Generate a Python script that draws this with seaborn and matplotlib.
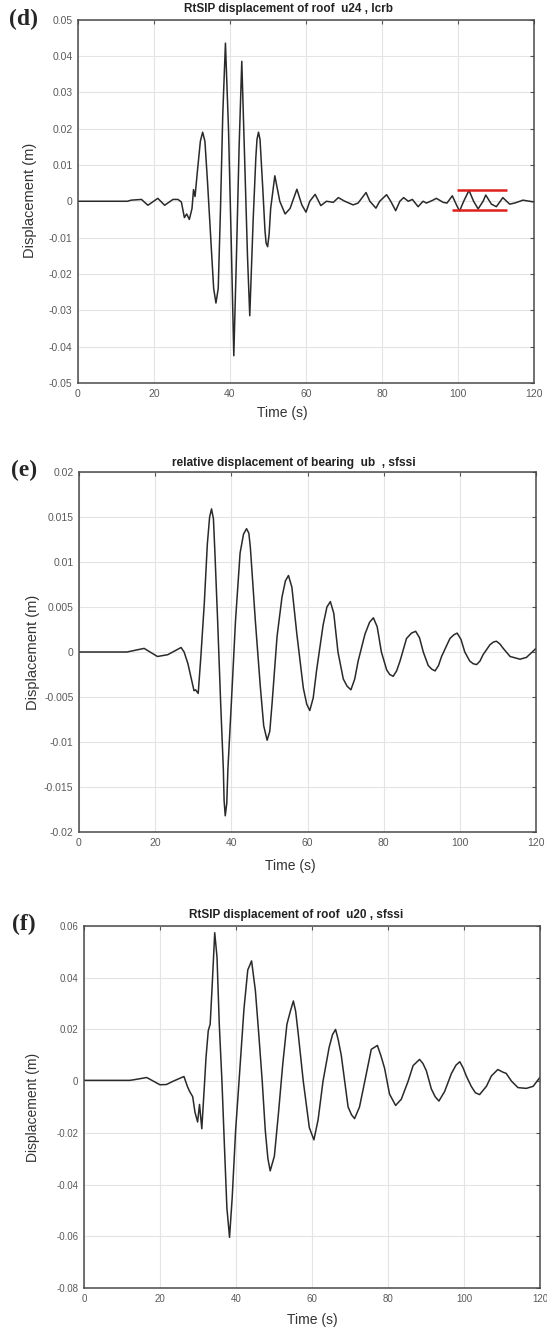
import numpy as np
import pandas as pd
import seaborn as sns
import matplotlib
matplotlib.use("Agg")
import matplotlib.pyplot as plt

sns.set_style("white")
plt.rcParams["font.family"] = ["Liberation Sans", "DejaVu Sans"]

# (d) roof displacement u24, lcrb
t_d = [0, 13, 14, 16.7, 18.4, 21, 22.8, 25, 26.3, 27.2,
       28, 28.6, 29.3, 30, 30.4, 30.8, 31.4, 32.2, 32.8, 33.4,
       34.1, 35.2, 35.7, 36.3, 36.9, 37.5, 38.1, 38.8, 39.6, 40.3,
       41, 41.7, 42.4, 43.1, 43.9, 44.6, 45.2, 46.1, 46.8, 47.1,
       47.5, 47.9, 48.6, 49.2, 49.5, 49.9, 50.3, 50.7, 51.8, 53.1,
       54.5, 55.8, 57.6, 58.9, 60, 61, 62.4, 63.9, 65.4, 67.2,
       68.5, 70.2, 72.4, 73.7, 75.8, 76.8, 78.4, 79.4, 81.2, 82.3,
       83.6, 84.7, 85.7, 86.9, 88, 89.5, 90.8, 91.7, 93.4, 94.3,
       96.1, 97.1, 98.5, 99.6, 100.4, 101.5, 102.9, 104.1, 105.3, 106.6,
       107.3, 108.8, 110.1, 111.8, 113.6, 114.9, 117.1, 120]
u_d = [0, 0, 0.0003, 0.0005, -0.0011, 0.0008, -0.0011, 0.0005, 0.0005, -0.0002,
       -0.0045, -0.0035, -0.005, -0.002, 0.0032, 0.0013, 0.008, 0.0165, 0.019, 0.0165,
       0.005, -0.015, -0.024, -0.028, -0.024, -0.002, 0.024, 0.0435, 0.02, -0.01,
       -0.0425, -0.015, 0.015, 0.0385, 0.01, -0.015, -0.0315, -0.005, 0.012, 0.017,
       0.019, 0.017, 0.004, -0.008, -0.0115, -0.0125, -0.009, -0.002, 0.007, 0.0,
       -0.0035, -0.002, 0.0033, -0.001, -0.003, 0.0, 0.0019, -0.0012, 0.0, -0.0003,
       0.001, 0.0, -0.001, -0.0005, 0.0024, 0.0, -0.0019, 0.0, 0.0018, 0.0,
       -0.0026, 0.0, 0.001, 0.0, 0.0005, -0.0015, 0.0, -0.0005, 0.0003, 0.0008,
       -0.0003, -0.0005, 0.0015, -0.001, -0.0027, 0.0, 0.003, 0.0, -0.0021, 0.0,
       0.0017, -0.0008, -0.0015, 0.001, -0.0008, -0.0005, 0.0003, -0.0002]

# red band marked on (d)
band_t_upper = [99.8, 113.0]
band_t_lower = [98.5, 113.0]
band_upper = 0.0031
band_lower = -0.0023

# (e) relative displacement of bearing ub, sfssi
t_e = [0, 12.6, 17.1, 20.6, 23.3, 26.8, 27.6, 28.6, 30.2, 30.6,
       31.3, 32.0, 32.9, 33.7, 34.3, 34.8, 35.3, 35.7, 36.4, 37.2,
       37.9, 38.1, 38.4, 38.8, 39.1, 40.0, 41.1, 42.3, 43.2, 44.0,
       44.6, 45.0, 46.3, 47.6, 48.5, 49.4, 50.1, 50.7, 52.0, 53.3,
       54.2, 55.0, 55.9, 57.2, 58.9, 59.8, 60.6, 61.5, 62.4, 64.1,
       65.1, 66.0, 66.9, 68.0, 69.4, 70.4, 71.4, 72.4, 73.3, 75.1,
       76.3, 77.3, 78.3, 79.4, 80.8, 81.6, 82.5, 83.4, 84.3, 86.0,
       87.3, 88.4, 89.4, 90.4, 91.7, 92.6, 93.5, 94.4, 95.2, 97.4,
       98.4, 99.3, 100.3, 101.3, 102.6, 103.5, 104.4, 105.3, 106.1, 107.9,
       108.8, 109.6, 110.5, 111.4, 113.2, 115.8, 117.5, 120]
u_e = [0, 0, 0.0004, -0.0005, -0.0003, 0.0005, 0.0, -0.0013, -0.0043, -0.0042,
       -0.0046, -0.0005, 0.0054, 0.012, 0.015, 0.0159, 0.0148, 0.0109, 0.0035, -0.0057,
       -0.013, -0.0165, -0.0182, -0.0168, -0.013, -0.0057, 0.0035, 0.011, 0.0131, 0.0137,
       0.0132, 0.0116, 0.0035, -0.0038, -0.0082, -0.0098, -0.0088, -0.0057, 0.0017, 0.0061,
       0.0079, 0.0085, 0.0072, 0.002, -0.004, -0.0058, -0.0065, -0.0051, -0.002, 0.003,
       0.005, 0.0056, 0.0043, 0.0, -0.003, -0.0038, -0.0042, -0.003, -0.001, 0.002,
       0.0033, 0.0038, 0.0028, 0.0, -0.002, -0.0025, -0.0027, -0.0021, -0.001, 0.0015,
       0.0021, 0.0023, 0.0016, 0.0, -0.0015, -0.0019, -0.0021, -0.0015, -0.0005, 0.0015,
       0.0019, 0.0021, 0.0014, 0.0, -0.001, -0.0013, -0.0014, -0.001, -0.0003, 0.0008,
       0.0011, 0.0012, 0.0009, 0.0004, -0.0005, -0.0008, -0.0006, 0.0004]

# (f) roof displacement u20, sfssi
t_f = [0, 12, 13, 16.5, 20, 21.7, 23.5, 26.3, 27.2, 27.8,
       28.6, 29.2, 29.9, 30.4, 31.0, 31.7, 32.1, 32.7, 33.2, 33.7,
       34.4, 35.0, 35.6, 36.3, 36.9, 37.6, 38.3, 39.0, 39.9, 40.8,
       42.1, 43.1, 44.1, 45.1, 46.0, 46.9, 47.7, 48.4, 49.0, 50.1,
       51.2, 52.3, 53.4, 54.3, 55.1, 55.7, 56.4, 57.7, 59.3, 60.5,
       61.6, 62.9, 64.5, 65.4, 66.2, 66.9, 67.7, 69.5, 70.4, 71.2,
       72.5, 73.9, 75.6, 77.2, 78.1, 79.1, 80.4, 82.0, 83.5, 85.3,
       86.6, 88.3, 89.2, 90.1, 91.4, 92.4, 93.4, 94.9, 96.7, 97.9,
       98.9, 99.8, 100.6, 101.9, 103.0, 104.1, 105.9, 107.2, 108.9, 110.2,
       111.1, 112.5, 114.2, 116.4, 118.2, 120]
u_f = [0.0003, 0.0003, 0.0005, 0.0014, -0.0014, -0.0013, 0.0, 0.0018, -0.002, -0.004,
       -0.006, -0.012, -0.0158, -0.009, -0.0184, -0.0013, 0.009, 0.0195, 0.022, 0.036,
       0.0574, 0.048, 0.022, 0.0, -0.023, -0.049, -0.0604, -0.045, -0.019, 0.0,
       0.028, 0.043, 0.0465, 0.035, 0.018, 0.0, -0.019, -0.030, -0.0347, -0.029,
       -0.012, 0.0065, 0.022, 0.027, 0.031, 0.027, 0.018, 0.0, -0.018, -0.0227,
       -0.015, 0.0, 0.013, 0.018, 0.02, 0.016, 0.01, -0.01, -0.013, -0.0145,
       -0.01, 0.0, 0.0123, 0.0138, 0.010, 0.005, -0.005, -0.0094, -0.007, 0.0,
       0.006, 0.0084, 0.0068, 0.004, -0.003, -0.006, -0.0077, -0.004, 0.003, 0.0062,
       0.0075, 0.005, 0.002, -0.002, -0.0045, -0.0052, -0.002, 0.002, 0.0045, 0.0035,
       0.003, 0.0, -0.0025, -0.0028, -0.002, 0.0015]

x_ticks = [0, 20, 40, 60, 80, 100, 120]
yticks_d = [-0.05, -0.04, -0.03, -0.02, -0.01, 0, 0.01, 0.02, 0.03, 0.04, 0.05]
ylabels_d = ["-0.05", "-0.04", "-0.03", "-0.02", "-0.01", "0", "0.01", "0.02", "0.03", "0.04", "0.05"]
yticks_e = [-0.02, -0.015, -0.01, -0.005, 0, 0.005, 0.01, 0.015, 0.02]
ylabels_e = ["-0.02", "-0.015", "-0.01", "-0.005", "0", "0.005", "0.01", "0.015", "0.02"]
yticks_f = [-0.08, -0.06, -0.04, -0.02, 0, 0.02, 0.04, 0.06]
ylabels_f = ["-0.08", "-0.06", "-0.04", "-0.02", "0", "0.02", "0.04", "0.06"]

W, H = 547, 1333
fig = plt.figure(figsize=(W / 100, H / 100), dpi=100)


def panel(left, right, top, bottom, t, u, yticks, ylabels, tick_size=7.5):
    ax = fig.add_axes([left / W, 1 - bottom / H, (right - left) / W, (bottom - top) / H])
    df = pd.DataFrame({"t": t, "u": u})
    sns.lineplot(data=df, x="t", y="u", ax=ax, color="#2a2a2a", lw=1.1,
                 estimator=None, sort=False)
    ax.set_xlim(0, 120)
    ax.set_ylim(yticks[0], yticks[-1])
    ax.set_xticks(x_ticks)
    ax.set_xticklabels([str(v) for v in x_ticks])
    ax.set_yticks(yticks)
    ax.set_yticklabels(ylabels)
    ax.grid(True, color="#e4e4e4", lw=0.8)
    ax.tick_params(direction="in", top=True, right=True, length=3, width=0.8,
                   color="#555555", labelcolor="#5a5a5a", labelsize=tick_size, pad=4)
    for s in ax.spines.values():
        s.set_color("#4a4a4a")
        s.set_linewidth(1.1)
    ax.set_xlabel("")
    ax.set_ylabel("")
    return ax


def note(px, py, s, **kw):
    fig.text(px / W, 1 - py / H, s, ha="center", va="center", **kw)


ax_d = panel(78, 534, 19.5, 383, t_d, u_d, yticks_d, ylabels_d)
ax_d.hlines(band_upper, band_t_upper[0], band_t_upper[1], color="#e0201c", lw=1.8, zorder=5)
ax_d.hlines(band_lower, band_t_lower[0], band_t_lower[1], color="#e0201c", lw=1.8, zorder=5)

ax_e = panel(79, 536, 472, 832, t_e, u_e, yticks_e, ylabels_e)
ax_f = panel(84, 540, 926, 1288, t_f, u_f, yticks_f, ylabels_f, tick_size=7)

# titles
note(288, 9, "RtSIP displacement of roof  u24 , lcrb", fontsize=8.5, fontweight="bold", color="#222222")
note(294, 463, "relative displacement of bearing  ub  , sfssi", fontsize=8.6, fontweight="bold", color="#222222")
note(296, 915, "RtSIP displacement of roof  u20 , sfssi", fontsize=8.5, fontweight="bold", color="#222222")

# panel letters
serif = ["Liberation Serif", "DejaVu Serif"]
note(24, 19, "(d)", fontsize=17, fontweight="bold", family=serif)
note(24, 470, "(e)", fontsize=17, fontweight="bold", family=serif)
note(24, 924, "(f)", fontsize=17, fontweight="bold", family=serif)

# axis labels
note(30, 200, "Displacement (m)", fontsize=10.5, rotation=90, color="#333333")
note(33, 652, "Displacement (m)", fontsize=10.5, rotation=90, color="#333333")
note(33, 1107, "Displacement (m)", fontsize=10, rotation=90, color="#333333")
note(282, 413, "Time (s)", fontsize=10, color="#333333")
note(290, 866, "Time (s)", fontsize=10, color="#333333")
note(312, 1320, "Time (s)", fontsize=10, color="#333333")

fig.savefig("out.png", dpi=100)
